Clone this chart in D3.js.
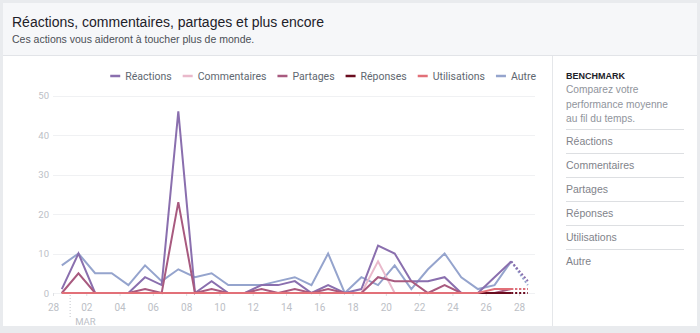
<!DOCTYPE html>
<html>
<head>
<meta charset="utf-8">
<script src="https://cdn.jsdelivr.net/npm/d3@7"></script>
<style>
  html, body { margin: 0; padding: 0; background: #e9ebee; }
  svg { display: block; }
</style>
</head>
<body>
<svg id="chart" width="700" height="333"></svg>
<script>
// Daily counts, Feb 28 → Mar 28 (one value per day)
const startDay = new Date(2019, 1, 28);

const seriesNames = ["Réactions", "Commentaires", "Partages", "Réponses", "Utilisations", "Autre"];
const seriesColors = ["#8a6fae", "#e9b9cb", "#a85a7f", "#6a0c1f", "#e27078", "#95a4cd"];

const reactions    = [1,10,0,0,0,4,2,46,0,3,0,0,2,2,3,0,2,0,1,12,10,3,3,4,0,0,4,8,3];
const commentaires = [0,0,0,0,0,0,0,0,0,0,0,0,0,0,0,0,0,0,0,8,0,0,0,0,0,0,0,0,0];
const partages     = [0,5,0,0,0,1,0,23,0,1,0,0,1,0,1,0,1,0,0,4,3,3,0,2,0,0,0,1,1];
const reponses     = [0,0,0,0,0,0,0,0,0,0,0,0,0,0,0,0,0,0,0,0,0,0,0,0,0,0,0,0,0];
const utilisations = [0,0,0,0,0,0,0,0,0,0,0,0,0,0,0,0,0,0,0,0,0,0,0,0,0,0,1,1,1];
const autre        = [7,10,5,5,2,7,3,6,4,5,2,2,2,3,4,2,10,0,4,2,7,1,6,10,4,1,2,8,2];

const yTicks = [0, 10, 20, 30, 40, 50];
const sidebarItems = ["Réactions", "Commentaires", "Partages", "Réponses", "Utilisations", "Autre"];

const seriesValues = [reactions, commentaires, partages, reponses, utilisations, autre];
// paint order: Autre at the back, Utilisations on top
const drawOrder = [5, 0, 1, 2, 3, 4];

const svg = d3.select("#chart");
const uiFont = "'Liberation Sans', Helvetica, Arial, sans-serif";
const chartFont = "Roboto, 'Noto Sans', sans-serif";

// ---------- frame ----------
svg.append("rect").attr("x", 0).attr("y", 0).attr("width", 700).attr("height", 333).attr("fill", "#e9ebee");
svg.append("rect").attr("x", 3).attr("y", 3).attr("width", 694).attr("height", 52).attr("fill", "#f6f7f9");
svg.append("rect").attr("x", 3).attr("y", 55).attr("width", 694).attr("height", 271).attr("fill", "#ffffff");
svg.append("line").attr("x1", 3).attr("x2", 697).attr("y1", 55.5).attr("y2", 55.5).attr("stroke", "#e2e4e8");
svg.append("line").attr("x1", 552.5).attr("x2", 552.5).attr("y1", 56).attr("y2", 326).attr("stroke", "#e5e7ea");

svg.append("text").attr("x", 12).attr("y", 27)
  .attr("font-family", uiFont).attr("font-size", 14).attr("fill", "#1d2129")
  .text("Réactions, commentaires, partages et plus encore");
svg.append("text").attr("x", 12).attr("y", 43)
  .attr("font-family", uiFont).attr("font-size", 10.5).attr("fill", "#4b4f56")
  .text("Ces actions vous aideront à toucher plus de monde.");

// ---------- scales ----------
const x = d3.scaleTime()
  .domain([startDay, d3.timeDay.offset(startDay, 28)])
  .range([53.5, 519.5]);
const y = d3.scaleLinear().domain([0, 50]).range([293, 95.5]);

const g = svg.append("g");

// horizontal grid
g.selectAll("line.grid").data(yTicks).join("line")
  .attr("x1", 53).attr("x2", 535)
  .attr("y1", d => Math.round(y(d)) + 0.5).attr("y2", d => Math.round(y(d)) + 0.5)
  .attr("stroke", "#f0f1f3");

// y tick labels
g.selectAll("text.ytick").data(yTicks).join("text")
  .attr("x", 49).attr("y", d => y(d) + 3.5)
  .attr("text-anchor", "end")
  .attr("font-family", chartFont).attr("font-size", 9.5).attr("fill", "#bcc0c6")
  .text(d => d);

// x axis ticks every two days
const xTicks = d3.timeDay.range(startDay, d3.timeDay.offset(startDay, 29), 2);
const fmt = d3.timeFormat("%d");
g.selectAll("text.xtick").data(xTicks).join("text")
  .attr("x", d => x(d)).attr("y", 311)
  .attr("text-anchor", "middle")
  .attr("font-family", chartFont).attr("font-size", 10).attr("fill", "#bcc0c6")
  .text(d => fmt(d));
g.selectAll("line.xtickmark").data(xTicks).join("line")
  .attr("x1", d => x(d)).attr("x2", d => x(d))
  .attr("y1", 293).attr("y2", 296)
  .attr("stroke", "#dfe1e4");

// month boundary marker
const monthStart = new Date(2019, 2, 1);
g.append("line")
  .attr("x1", x(monthStart)).attr("x2", x(monthStart))
  .attr("y1", 295).attr("y2", 318)
  .attr("stroke", "#c4c8ce").attr("stroke-dasharray", "1,2");
g.append("text").attr("x", x(monthStart) + 5).attr("y", 325)
  .attr("font-family", chartFont).attr("font-size", 9.5).attr("fill", "#bcc0c6")
  .text("MAR");

// ---------- lines ----------
const pointDate = i => d3.timeHour.offset(d3.timeDay.offset(startDay, i), 12);
const line = d3.line()
  .x(d => x(pointDate(d.i)))
  .y(d => y(d.v));

drawOrder.forEach(k => {
  const pts = seriesValues[k].map((v, i) => ({ i, v }));
  const solid = pts.slice(0, pts.length - 1);
  const tail = pts.slice(pts.length - 2);
  g.append("path").datum(solid)
    .attr("d", line).attr("fill", "none")
    .attr("stroke", seriesColors[k]).attr("stroke-width", 2)
    .attr("stroke-linejoin", "miter");
  g.append("path").datum(tail)
    .attr("d", line).attr("fill", "none")
    .attr("stroke", seriesColors[k]).attr("stroke-width", 2)
    .attr("stroke-dasharray", "2,2");
});

// ---------- legend (flowed right-to-left from the plot's right edge) ----------
const legend = svg.append("g");
const items = seriesNames.map((name, k) => {
  const grp = legend.append("g");
  grp.append("line")
    .attr("x1", 0).attr("x2", 10)
    .attr("y1", 76).attr("y2", 76)
    .attr("stroke", seriesColors[k]).attr("stroke-width", 2.5);
  const t = grp.append("text")
    .attr("x", 15).attr("y", 79.5)
    .attr("font-family", chartFont).attr("font-size", 10.5).attr("fill", "#606770")
    .text(name);
  return { grp, w: 15 + t.node().getComputedTextLength() };
});
let cursor = 536;
for (let k = items.length - 1; k >= 0; k--) {
  cursor -= items[k].w;
  items[k].grp.attr("transform", `translate(${cursor},0)`);
  cursor -= 11;
}

// ---------- sidebar ----------
const side = svg.append("g");
side.append("text").attr("x", 566).attr("y", 78.5)
  .attr("font-family", uiFont).attr("font-size", 9).attr("font-weight", "bold").attr("fill", "#1d2129")
  .text("BENCHMARK");
["Comparez votre", "performance moyenne", "au fil du temps."].forEach((t, i) => {
  side.append("text").attr("x", 566).attr("y", 93 + i * 14.5)
    .attr("font-family", uiFont).attr("font-size", 10.2).attr("fill", "#90949c")
    .text(t);
});
sidebarItems.forEach((t, i) => {
  const top = 129 + i * 24;
  side.append("line").attr("x1", 566).attr("x2", 684)
    .attr("y1", top + 0.5).attr("y2", top + 0.5).attr("stroke", "#dddfe2");
  side.append("text").attr("x", 566).attr("y", top + 16)
    .attr("font-family", uiFont).attr("font-size", 10.5).attr("fill", "#7f838a")
    .text(t);
});
</script>
</body>
</html>
